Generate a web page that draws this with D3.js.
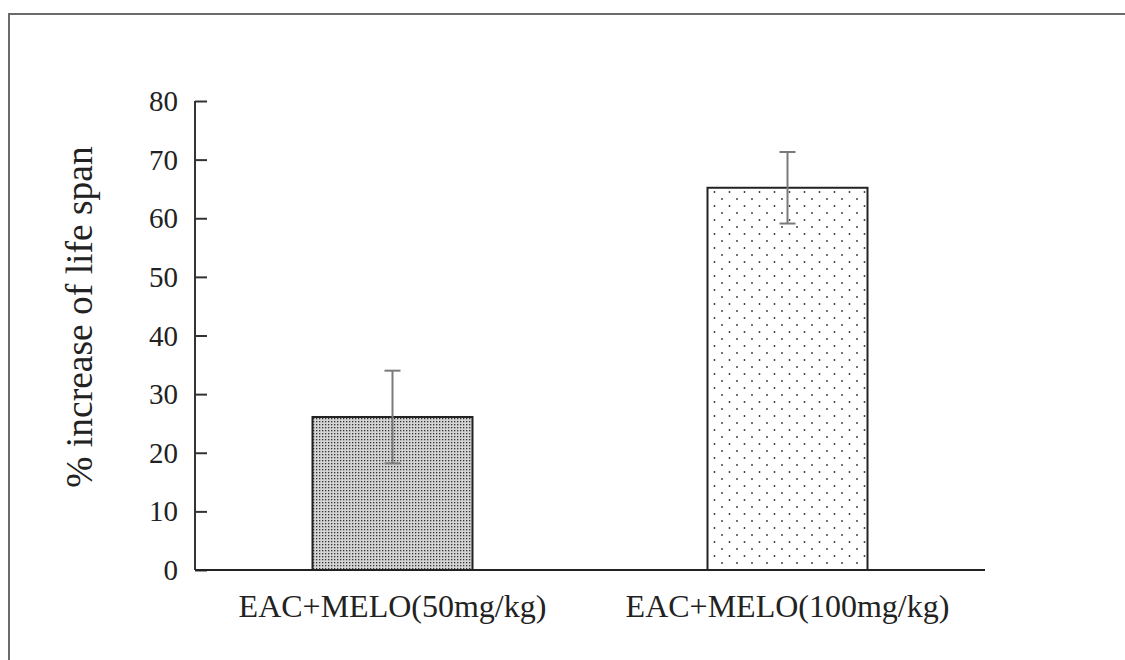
<!DOCTYPE html>
<html>
<head>
<meta charset="utf-8">
<script src="https://d3js.org/d3.v7.min.js"></script>
<style>
    body { margin: 0; background: #fff; }
    text { font-family: "Liberation Serif", "DejaVu Serif", serif; fill: #222; }
</style>
</head>
<body>
<script>
    // data
    var groups = ["EAC+MELO(50mg/kg)", "EAC+MELO(100mg/kg)"];
    var means = [26.1, 65.2];
    var errors = [7.9, 6.1];
    var yTicks = [0, 10, 20, 30, 40, 50, 60, 70, 80];

    var width = 1125, height = 660;
    var svg = d3.select("body").append("svg")
        .attr("width", width)
        .attr("height", height);

    // outer frame (only top and left visible)
    svg.append("path")
        .attr("d", "M9," + height + "V14H" + width)
        .attr("fill", "none")
        .attr("stroke", "#6a6a6a")
        .attr("stroke-width", 2);

    // patterns
    var defs = svg.append("defs");
    var p1 = defs.append("pattern")
        .attr("id", "dense")
        .attr("patternUnits", "userSpaceOnUse")
        .attr("width", 3).attr("height", 3);
    p1.append("rect").attr("width", 3).attr("height", 3).attr("fill", "#d4d4d4");
    p1.append("rect").attr("x", 1).attr("y", 1).attr("width", 1.3).attr("height", 1.3).attr("fill", "#333");

    var p2 = defs.append("pattern")
        .attr("id", "sparse")
        .attr("patternUnits", "userSpaceOnUse")
        .attr("width", 15).attr("height", 14);
    p2.append("rect").attr("width", 15).attr("height", 14).attr("fill", "#fff");
    p2.append("circle").attr("cx", 2).attr("cy", 3).attr("r", 0.9).attr("fill", "#333");
    p2.append("circle").attr("cx", 9.5).attr("cy", 10).attr("r", 0.9).attr("fill", "#333");

    var x = d3.scaleBand().domain(groups).range([195, 985]);
    var y = d3.scaleLinear().domain([0, 80]).range([570, 101]);
    var barW = 160;

    // bars
    svg.selectAll(".bar")
        .data(groups)
        .enter()
        .append("rect")
        .attr("class", "bar")
        .attr("x", function (d) { return x(d) + x.bandwidth() / 2 - barW / 2; })
        .attr("y", function (d, i) { return y(means[i]); })
        .attr("width", barW)
        .attr("height", function (d, i) { return y(0) - y(means[i]); })
        .attr("fill", function (d, i) { return i == 0 ? "url(#dense)" : "url(#sparse)"; })
        .attr("stroke", "#222")
        .attr("stroke-width", 2);

    // error bars
    var eb = svg.selectAll(".err")
        .data(groups)
        .enter()
        .append("g")
        .attr("class", "err")
        .attr("stroke", "#7a7a7a")
        .attr("stroke-width", 2);
    eb.append("line")
        .attr("x1", function (d) { return x(d) + x.bandwidth() / 2; })
        .attr("x2", function (d) { return x(d) + x.bandwidth() / 2; })
        .attr("y1", function (d, i) { return y(means[i] + errors[i]); })
        .attr("y2", function (d, i) { return y(means[i] - errors[i]); });
    [1, -1].forEach(function (s) {
        eb.append("line")
            .attr("x1", function (d) { return x(d) + x.bandwidth() / 2 - 8; })
            .attr("x2", function (d) { return x(d) + x.bandwidth() / 2 + 8; })
            .attr("y1", function (d, i) { return y(means[i] + s * errors[i]); })
            .attr("y2", function (d, i) { return y(means[i] + s * errors[i]); });
    });

    // y axis
    var yAxis = d3.axisRight(y).tickValues(yTicks).tickSize(12).tickFormat("");
    var ya = svg.append("g").attr("transform", "translate(195,0)").call(yAxis);
    ya.select(".domain").remove();
    ya.selectAll("line").attr("stroke", "#333").attr("stroke-width", 2);
    svg.append("line")
        .attr("x1", 195).attr("x2", 195)
        .attr("y1", y(80)).attr("y2", y(0))
        .attr("stroke", "#333").attr("stroke-width", 2);
    svg.selectAll(".ylab")
        .data(yTicks)
        .enter()
        .append("text")
        .attr("class", "ylab")
        .attr("x", 178)
        .attr("y", function (d) { return y(d) + 10; })
        .attr("text-anchor", "end")
        .attr("font-size", 29)
        .text(function (d) { return d; });

    // x axis
    svg.append("line")
        .attr("x1", 195).attr("x2", 985)
        .attr("y1", y(0)).attr("y2", y(0))
        .attr("stroke", "#222").attr("stroke-width", 2);
    svg.selectAll(".xlab")
        .data(groups)
        .enter()
        .append("text")
        .attr("class", "xlab")
        .attr("x", function (d) { return x(d) + x.bandwidth() / 2; })
        .attr("y", 617)
        .attr("text-anchor", "middle")
        .attr("font-size", 32)
        .text(function (d) { return d; });

    // y title
    svg.append("text")
        .attr("transform", "translate(92,317) rotate(-90)")
        .attr("text-anchor", "middle")
        .attr("font-size", 37.5)
        .text("% increase of life span");
</script>
</body>
</html>
